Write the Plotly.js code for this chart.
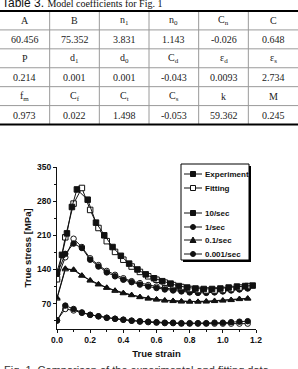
<!DOCTYPE html>
<html>
<head>
<meta charset="utf-8">
<script src="https://cdn.plot.ly/plotly-3.0.1.min.js"></script>
<style>
html,body{margin:0;padding:0;background:#fff;}
#chart{width:298px;height:369px;}
</style>
</head>
<body>
<div id="chart"></div>
<script>
// ---- table data ----
const row1Labels = ['A', 'B', 'n<sub>1</sub>', 'n<sub>0</sub>', 'C<sub>n</sub>', 'C'];
const row1Values = ['60.456', '75.352', '3.831', '1.143', '-0.026', '0.648'];
const row2Labels = ['P', 'd<sub>1</sub>', 'd<sub>0</sub>', 'C<sub>d</sub>', 'ε<sub>d</sub>', 'ε<sub>s</sub>'];
const row2Values = ['0.214', '0.001', '0.001', '-0.043', '0.0093', '2.734'];
const row3Labels = ['f<sub>m</sub>', 'C<sub>f</sub>', 'C<sub>t</sub>', 'C<sub>s</sub>', 'k', 'M'];
const row3Values = ['0.973', '0.022', '1.498', '-0.053', '59.362', '0.245'];

// ---- chart data ----
const strain = [0,0.05,0.1,0.15,0.2,0.25,0.3,0.35,0.4,0.45,0.5,0.55,0.6,0.65,0.7,0.75,0.8,0.85,0.9,0.95,1.0,1.05,1.1,1.15];
const strainExp10 = [0,0.03,0.06,0.09,0.12,0.185,0.235,0.285,0.335,0.385,0.435,0.485,0.535,0.585,0.635,0.685,0.735,0.785,0.835,0.885,0.935,0.985,1.035,1.085,1.135,1.18];
const exp10 = [135,170,214,268,304,283,236,210,186,168,152,140,130,122,116,111,106,103,101,100,100,101,103,105,106,107];
const fit10 = [120,206,275,307,262,225,198,176,160,146,135,126,119,113,108,104,100,98,97,97,98,100,103,106];
const exp1 = [130,172,193,184,160,146,134,126,119,114,109,105,102,99,97,95,93,92,92,93,95,97,99,101];
const fit1 = [120,165,203,186,163,149,137,129,122,116,112,108,105,102,99,97,95,94,94,95,96,98,100,102];
const exp01 = [82,142,139,127,118,110,103,97,92,88,84,81,79,77,76,75,74,74,74,75,76,77,79,80];
const fit01 = [80,140,140,128,117,109,102,96,91,87,83,80,78,76,75,74,74,74,75,76,77,78,80,81];
const exp0001 = [35,66,59,52,47,44,41,39,37,35,34,33,32,31,31,30,30,30,30,31,31,32,33,34];
const fit0001 = [36,59,56,51,47,44,41,39,37,35,33,32,31,30,30,29,29,29,29,29,29,29,29,29];

const legendNames = ['Experiment', 'Fitting', '10/sec', '1/sec', '0.1/sec', '0.001/sec'];
const xTickVals = [0, 0.2, 0.4, 0.6, 0.8, 1.0, 1.2];
const yTickVals = [70, 140, 210, 280, 350];

// ---- helpers (pixel -> paper) ----
const W = 298, H = 369;
const X = px => px / W;
const Y = py => 1 - py / H;

const serif = 'Liberation Serif, Times New Roman, serif';
const sans = 'Liberation Sans, Arial, sans-serif';

function series(x, y, symbol, filled) {
  return {
    type: 'scatter', mode: 'lines+markers', x: x, y: y,
    xaxis: 'x', yaxis: 'y', showlegend: false, hoverinfo: 'skip',
    line: {color: '#111', width: 1},
    marker: {symbol: symbol, size: 5.5, color: filled ? '#111' : '#fff',
             line: {color: '#111', width: 1}}
  };
}

const data = [
  series(strain, fit0001, 'circle', false),
  series(strain, exp0001, 'circle', true),
  series(strain, fit01, 'triangle-up', false),
  series(strain, exp01, 'triangle-up', true),
  series(strain, fit1, 'circle', false),
  series(strain, exp1, 'circle', true),
  series(strain, fit10, 'square', false),
  series(strainExp10, exp10, 'square', true)
];

const shapes = [];
const annotations = [];

// ---- table (cells from the row arrays) ----
const tableRows = [row1Labels, row1Values, row2Labels, row2Values, row3Labels, row3Values];
const tTop = 11, tBottom = 124.5, nCols = row1Labels.length, nRows = tableRows.length;
const rowH = (tBottom - tTop) / nRows, colW = W / nCols;
for (let r = 1; r < nRows; r++) {
  const yy = tTop + r * rowH;
  shapes.push({type: 'line', xref: 'paper', yref: 'paper', x0: 0, x1: 1, y0: Y(yy), y1: Y(yy), line: {color: '#9a9a9a', width: 1}});
}
for (let c = 1; c < nCols; c++) {
  const xx = c * colW;
  shapes.push({type: 'line', xref: 'paper', yref: 'paper', x0: X(xx), x1: X(xx), y0: Y(tBottom), y1: Y(tTop), line: {color: '#9a9a9a', width: 1}});
}
shapes.push({type: 'line', xref: 'paper', yref: 'paper', x0: 0, x1: 1, y0: Y(tTop), y1: Y(tTop), line: {color: '#000', width: 2}});
shapes.push({type: 'line', xref: 'paper', yref: 'paper', x0: 0, x1: 1, y0: Y(tBottom), y1: Y(tBottom), line: {color: '#000', width: 2}});
tableRows.forEach((row, r) => {
  row.forEach((txt, c) => {
    annotations.push({xref: 'paper', yref: 'paper', x: X((c + 0.5) * colW), y: Y(tTop + (r + 0.5) * rowH),
      xanchor: 'center', yanchor: 'middle', showarrow: false, text: txt,
      font: {family: serif, size: 10, color: '#222'}});
  });
});

// ---- titles ----
annotations.push(
  {xref: 'paper', yref: 'paper', x: 0, y: Y(3.5), xanchor: 'left', yanchor: 'middle', showarrow: false,
   text: 'Table 3. <span style="font-family:Liberation Serif;font-size:10px">Model coefficients for Fig. 1</span>',
   font: {family: sans, size: 12, color: '#111'}},
  {xref: 'paper', yref: 'paper', x: X(2), y: Y(362), xanchor: 'left', yanchor: 'top', showarrow: false,
   text: 'Fig. 1  Comparison of the experimental and fitting data',
   font: {family: sans, size: 11, color: '#333'}}
);

// ---- legend built from shapes + annotations ----
shapes.push(
  {type: 'rect', xref: 'paper', yref: 'paper', x0: X(183), x1: X(251), y0: Y(262), y1: Y(166), fillcolor: '#000', line: {width: 0}},
  {type: 'rect', xref: 'paper', yref: 'paper', x0: X(181), x1: X(249), y0: Y(260), y1: Y(164), fillcolor: '#fff', line: {color: '#000', width: 1}}
);
const rowsY = [174, 188, 213, 227, 240, 254];
const legSym = ['square', 'square-open', 'square', 'circle', 'triangle', 'circle'];
legendNames.forEach((name, i) => {
  const cy = rowsY[i];
  shapes.push({type: 'line', xref: 'paper', yref: 'paper', x0: X(184), x1: X(202), y0: Y(cy), y1: Y(cy), line: {color: '#111', width: 1}});
  const s = legSym[i], r = 2.5, cx = 193;
  if (s === 'square' || s === 'square-open') {
    shapes.push({type: 'rect', xref: 'paper', yref: 'paper', x0: X(cx - r), x1: X(cx + r), y0: Y(cy + r), y1: Y(cy - r),
      fillcolor: s === 'square' ? '#111' : '#fff', line: {color: '#111', width: 1}});
  } else if (s === 'circle') {
    shapes.push({type: 'circle', xref: 'paper', yref: 'paper', x0: X(cx - r), x1: X(cx + r), y0: Y(cy + r), y1: Y(cy - r),
      fillcolor: '#111', line: {color: '#111', width: 1}});
  } else {
    shapes.push({type: 'path', xref: 'paper', yref: 'paper',
      path: `M ${X(cx - 3)} ${Y(cy + 2.5)} L ${X(cx + 3)} ${Y(cy + 2.5)} L ${X(cx)} ${Y(cy - 3)} Z`,
      fillcolor: '#111', line: {color: '#111', width: 1}});
  }
  annotations.push({xref: 'paper', yref: 'paper', x: X(203), y: Y(cy), xanchor: 'left', yanchor: 'middle',
    showarrow: false, text: name, font: {family: sans, size: 8, weight: 'bold', color: '#111'}});
});

const axisFont = {family: sans, size: 8.5, weight: 'bold', color: '#111'};
const layout = {
  width: W, height: H,
  margin: {l: 0, r: 0, t: 0, b: 0},
  paper_bgcolor: '#fff', plot_bgcolor: '#fff',
  showlegend: false,
  xaxis: {
    domain: [X(57), X(256)], range: [0, 1.2], anchor: 'y',
    tickvals: xTickVals, tickformat: '.1f', ticks: 'outside', ticklen: 3, tickwidth: 1, tickcolor: '#111',
    minor: {ticks: 'outside', ticklen: 2, dtick: 0.1, tick0: 0, tickcolor: '#111'},
    showline: true, linecolor: '#111', linewidth: 1, showgrid: false, zeroline: false,
    tickfont: axisFont, automargin: false,
    title: {text: 'True strain', font: {family: sans, size: 9.5, weight: 'bold', color: '#111'}, standoff: 6}
  },
  yaxis: {
    domain: [Y(329), Y(167)], range: [18, 350], anchor: 'x',
    tickvals: yTickVals, ticks: 'outside', ticklen: 3, tickwidth: 1, tickcolor: '#111',
    minor: {ticks: 'outside', ticklen: 2, dtick: 35, tick0: 0, tickcolor: '#111'},
    showline: true, linecolor: '#111', linewidth: 1, showgrid: false, zeroline: false,
    tickfont: axisFont, automargin: false,
    title: {text: 'True stress [MPa]', font: {family: sans, size: 9.5, weight: 'bold', color: '#111'}, standoff: 3}
  },
  shapes: shapes,
  annotations: annotations
};

Plotly.newPlot('chart', data, layout, {staticPlot: true, displayModeBar: false});
</script>
</body>
</html>
